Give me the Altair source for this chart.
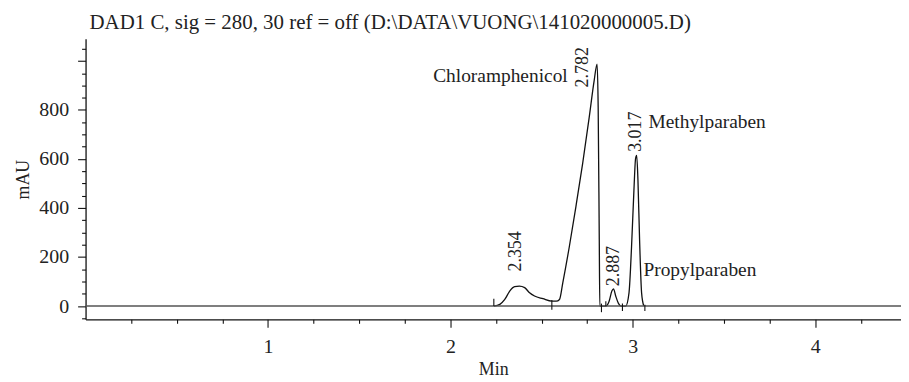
import altair as alt
import pandas as pd

# Chromatogram trace (time in min, absorbance in mAU)
time_min = [2.238, 2.271, 2.298, 2.325, 2.352, 2.378, 2.407, 2.434, 2.461, 2.507,
            2.556, 2.580, 2.598, 2.616, 2.652, 2.688, 2.725, 2.761, 2.788, 2.804,
            2.810, 2.816, 2.819, 2.852, 2.870, 2.885, 2.894, 2.906, 2.921, 2.935,
            2.961, 2.979, 2.993, 3.006, 3.015, 3.021, 3.028, 3.037, 3.048, 3.060]
mau = [0, 7, 27, 61, 79, 81, 75, 54, 41, 30,
       20, 20, 27, 95, 243, 406, 582, 771, 920, 987,
       811, 270, 0, 0, 20, 61, 70, 41, 11, 0,
       0, 54, 243, 473, 602, 615, 514, 270, 54, 0]

# Integration markers (time, low, high)
marker_t = [2.238, 2.556, 2.828, 2.852, 2.943, 3.066]
marker_lo = [0, -15, -25, 0, -20, -20]
marker_hi = [30, 25, 10, 20, 10, 5]

# Retention-time labels (rotated)
rt_text = ["2.354", "2.782", "2.887", "3.017"]
rt_t = [2.362, 2.725, 2.897, 3.015]
rt_y = [141, 892, 81, 629]

# Compound names
name_text = ["Chloramphenicol", "Methylparaben", "Propylparaben"]
name_t = [2.643, 3.086, 3.058]
name_y = [940, 750, 149]
name_align = ["right", "left", "left"]

x_ticks = [i * 0.25 for i in range(1, 18)]
y_ticks = [-50 + 50 * i for i in range(0, 23)]

FONT = "Liberation Serif"

trace = pd.DataFrame({"t": time_min, "mAU": mau})
markers = pd.DataFrame({"t": marker_t, "lo": marker_lo, "hi": marker_hi})
rts = pd.DataFrame({"t": rt_t, "y": rt_y, "label": rt_text})
names = pd.DataFrame({"t": name_t, "y": name_y, "label": name_text, "align": name_align})

xscale = alt.Scale(domain=[0, 4.47], nice=False, zero=False)
yscale = alt.Scale(domain=[-54, 1090], nice=False, zero=False)

xaxis = alt.Axis(
    values=x_ticks,
    tickCount=100,
    labelExpr="datum.value % 1 === 0 ? format(datum.value, 'd') : ''",
    tickSize={"condition": {"test": "datum.value % 1 === 0", "value": 8}, "value": 4},
    labelOverlap=False,
    title="Min",
    grid=False,
)
yaxis = alt.Axis(
    values=y_ticks,
    tickCount=100,
    labelExpr="(datum.value >= 0 && datum.value <= 800 && datum.value % 200 === 0) ? format(datum.value, 'd') : ''",
    tickSize={"condition": {"test": "datum.value % 200 === 0", "value": 8}, "value": 4},
    labelOverlap=False,
    title="mAU",
    grid=False,
)

line = alt.Chart(trace).mark_line(
    color="#111111", strokeWidth=1.3, interpolate="monotone"
).encode(
    x=alt.X("t:Q", scale=xscale, axis=xaxis),
    y=alt.Y("mAU:Q", scale=yscale, axis=yaxis),
)

base_rule = alt.Chart(pd.DataFrame({"y": [0]})).mark_rule(
    color="#555555", strokeWidth=1.5
).encode(y=alt.Y("y:Q", scale=yscale))

mk = alt.Chart(markers).mark_rule(color="#111111", strokeWidth=1.1).encode(
    x=alt.X("t:Q", scale=xscale),
    y=alt.Y("lo:Q", scale=yscale),
    y2="hi:Q",
)

rt = alt.Chart(rts).mark_text(
    angle=270, align="left", baseline="middle", font=FONT, fontSize=18, color="#222222"
).encode(
    x=alt.X("t:Q", scale=xscale),
    y=alt.Y("y:Q", scale=yscale),
    text="label:N",
)

nm_right = alt.Chart(names[names["align"] == "right"]).mark_text(
    align="right", baseline="middle", font=FONT, fontSize=19.5, color="#222222"
).encode(x=alt.X("t:Q", scale=xscale), y=alt.Y("y:Q", scale=yscale), text="label:N")

nm_left = alt.Chart(names[names["align"] == "left"]).mark_text(
    align="left", baseline="middle", font=FONT, fontSize=19.5, color="#222222"
).encode(x=alt.X("t:Q", scale=xscale), y=alt.Y("y:Q", scale=yscale), text="label:N")

chart = alt.layer(line, base_rule, mk, rt, nm_right, nm_left).properties(
    width=820,
    height=282,
    title=alt.TitleParams(
        text="DAD1 C, sig = 280, 30 ref = off (D:\\DATA\\VUONG\\141020000005.D)",
        anchor="start", frame="group", font=FONT, fontSize=21, fontWeight="normal",
        color="#222222", offset=6, dx=4,
    ),
    autosize=alt.AutoSizeParams(type="none"),
    padding={"left": 78, "top": 30, "right": 0, "bottom": 60},
).configure_view(stroke=None).configure_axis(
    labelFont=FONT, titleFont=FONT, labelFontSize=20, titleFontSize=18,
    titleFontWeight="normal", labelColor="#222222", titleColor="#222222",
    domainColor="#111111", tickColor="#111111", domainWidth=1.3, tickWidth=1.1,
).configure_axisX(labelPadding=9, titlePadding=5, labelFlush=False).configure_axisY(
    labelPadding=9, titlePadding=6
)

chart.save("out.html", embed_options={"renderer": "svg", "actions": False})
